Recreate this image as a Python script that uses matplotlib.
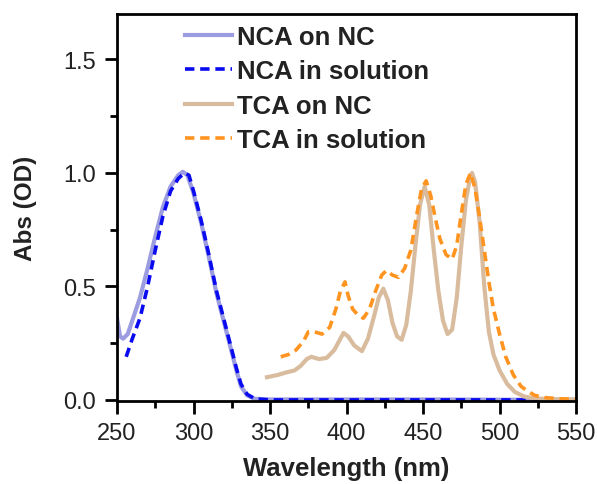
import matplotlib.pyplot as plt
from matplotlib.ticker import MultipleLocator

# ========== DATA ==========
nca_nc_x = [250, 252, 254, 257, 260, 265, 270, 275, 280, 285, 290, 293, 296, 300, 305, 310,
            315, 320, 325, 328, 331, 335, 340, 350, 400, 450, 500, 550]
nca_nc_y = [0.36, 0.28, 0.27, 0.29, 0.35, 0.45, 0.58, 0.72, 0.85, 0.94, 0.99, 1.005, 0.99, 0.91,
            0.78, 0.63, 0.47, 0.34, 0.21, 0.13, 0.06, 0.02, 0.005, 0.002, 0.002, 0.002, 0.001, 0.0]

nca_sol_x = [256, 260, 265, 270, 275, 280, 285, 290, 294, 297, 300, 305, 310, 315, 320, 325,
             328, 331, 335, 340, 350, 400, 450, 500, 550]
nca_sol_y = [0.19, 0.27, 0.36, 0.50, 0.66, 0.81, 0.92, 0.975, 1.0, 0.99, 0.92, 0.79, 0.64, 0.48,
             0.35, 0.22, 0.14, 0.07, 0.025, 0.005, 0.0, 0.0, 0.0, 0.0, 0.0]

tca_nc_x = [348, 355, 360, 366, 370, 374, 377, 382, 387, 392, 396, 398, 401, 405, 410, 414,
            418, 421, 424, 427, 430, 433, 436, 439, 442, 445, 448, 451, 454, 457, 460, 463,
            466, 469, 472, 475, 478, 481, 482, 484, 487, 490, 493, 496, 500, 505, 510, 516,
            522, 530, 550]
tca_nc_y = [0.10, 0.11, 0.12, 0.13, 0.15, 0.18, 0.19, 0.18, 0.185, 0.22, 0.27, 0.295, 0.28, 0.24,
            0.215, 0.27, 0.37, 0.45, 0.49, 0.44, 0.34, 0.28, 0.265, 0.33, 0.48, 0.68, 0.86, 0.94,
            0.86, 0.66, 0.48, 0.35, 0.29, 0.31, 0.45, 0.68, 0.88, 0.99, 1.0, 0.96, 0.78, 0.50,
            0.30, 0.20, 0.13, 0.07, 0.035, 0.015, 0.008, 0.004, 0.002]

tca_sol_x = [357, 362, 367, 372, 375, 379, 384, 389, 393, 396, 399, 401, 404, 408, 411, 415,
             419, 423, 426, 430, 434, 438, 442, 446, 449, 452, 455, 458, 461, 465, 469, 472,
             475, 478, 481, 484, 487, 490, 493, 496, 500, 504, 509, 514, 518, 523, 530, 540, 550]
tca_sol_y = [0.19, 0.20, 0.22, 0.26, 0.30, 0.30, 0.29, 0.32, 0.40, 0.48, 0.52, 0.46, 0.40, 0.37,
             0.36, 0.40, 0.48, 0.55, 0.57, 0.55, 0.54, 0.58, 0.66, 0.82, 0.93, 0.965, 0.90, 0.80,
             0.71, 0.64, 0.62, 0.68, 0.82, 0.95, 1.0, 0.93, 0.80, 0.66, 0.52, 0.40, 0.29, 0.19,
             0.11, 0.06, 0.04, 0.02, 0.01, 0.005, 0.003]

labels = ["NCA on NC", "NCA in solution", "TCA on NC", "TCA in solution"]
colors = ["#9c9ce0", "#0a0af0", "#d9bc9e", "#ff9420"]

# ========== PLOT ==========
plt.rcParams['font.family'] = ['Liberation Sans', 'DejaVu Sans']

fig = plt.figure(figsize=(5.97, 4.85), dpi=100)
ax = fig.add_axes([0.196, 0.171, 0.769, 0.798])

ax.plot(nca_nc_x, nca_nc_y, color=colors[0], lw=3, label=labels[0])
ax.plot(nca_sol_x, nca_sol_y, color=colors[1], lw=2.6, ls=(0, (2.6, 1.6)), label=labels[1])
ax.plot(tca_nc_x, tca_nc_y, color=colors[2], lw=3, label=labels[2])
ax.plot(tca_sol_x, tca_sol_y, color=colors[3], lw=2.6, ls=(0, (2.6, 1.6)), label=labels[3])

ax.set_xlim(250, 550)
ax.set_ylim(-0.005, 1.7)
ax.xaxis.set_major_locator(MultipleLocator(50))
ax.xaxis.set_minor_locator(MultipleLocator(25))
ax.yaxis.set_major_locator(MultipleLocator(0.5))
ax.yaxis.set_minor_locator(MultipleLocator(0.25))
ax.yaxis.set_major_formatter(plt.FormatStrFormatter('%.1f'))

for s in ax.spines.values():
    s.set_linewidth(2)
ax.tick_params(which='major', length=9, width=2, labelsize=17, pad=6, colors='black',
               labelcolor='#222222')
ax.tick_params(which='minor', length=5, width=2)

ax.set_xlabel("Wavelength (nm)", fontsize=18.5, fontweight='bold', color='#222222', labelpad=9)
ax.set_ylabel("Abs (OD)", fontsize=17.5, fontweight='bold', color='#222222', labelpad=19)

leg = ax.legend(loc='upper left', bbox_to_anchor=(0.148, 0.972), frameon=False,
                borderpad=0, borderaxespad=0, handlelength=1.83, handletextpad=0.2,
                labelspacing=0.41, prop={'size': 18.5, 'weight': 'bold'})
for t in leg.get_texts():
    t.set_color('#222222')

fig.savefig("out.png", dpi=100)
